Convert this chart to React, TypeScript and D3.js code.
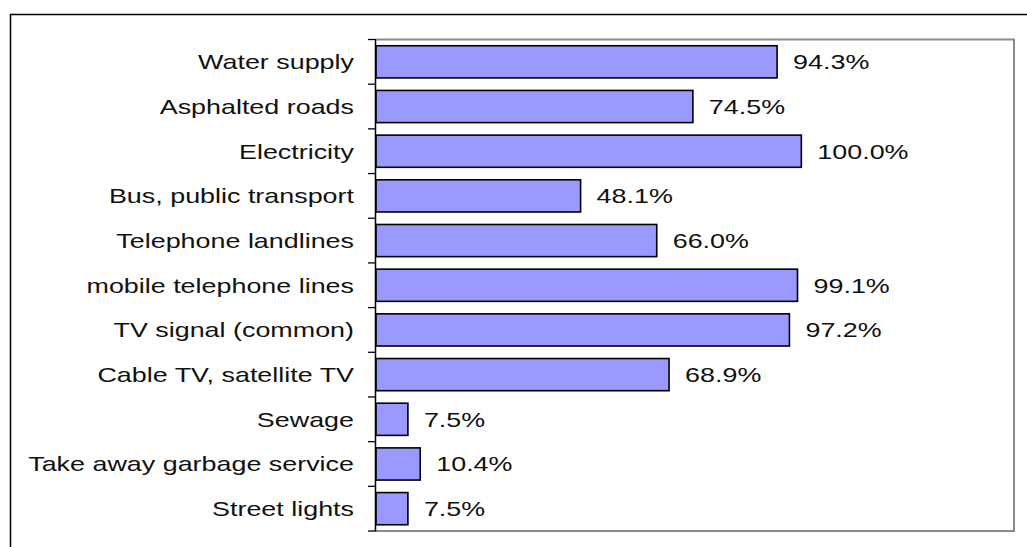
import React from "react";
import * as d3 from "d3";

const categories: string[] = [
  "Water supply",
  "Asphalted roads",
  "Electricity",
  "Bus, public transport",
  "Telephone landlines",
  "mobile telephone lines",
  "TV signal (common)",
  "Cable TV, satellite TV",
  "Sewage",
  "Take away garbage service",
  "Street lights",
];

const values: number[] = [94.3, 74.5, 100.0, 48.1, 66.0, 99.1, 97.2, 68.9, 7.5, 10.4, 7.5];

const xDomain: [number, number] = [0, 150];

const W = 1027;
const H = 547;
const plot = { left: 376, top: 39.5, right: 1014, bottom: 531 };
const FONT = "Arial, 'Liberation Sans', sans-serif";
const SX = 1.345; // horizontal stretch of the original text

export default function App() {
  const x = d3.scaleLinear().domain(xDomain).range([plot.left, plot.right]);
  const y = d3
    .scaleBand<string>()
    .domain(categories)
    .range([plot.top, plot.bottom])
    .paddingInner(0)
    .paddingOuter(0);
  const bandH = y.bandwidth();
  const boundaries = d3.range(categories.length + 1).map((i) => plot.top + i * bandH);
  const fmt = (v: number) => v.toFixed(1) + "%";

  return (
    <svg
      width={W}
      height={H}
      style={{ position: "absolute", left: 0, top: 0, display: "block", background: "#fff" }}
    >
      {/* outer frame */}
      <rect x={10.5} y={14.5} width={W + 20} height={H + 20} fill="none" stroke="#000" strokeWidth={1.5} />

      {/* plot area border */}
      <path
        d={`M${plot.left},${plot.top}H${plot.right}V${plot.bottom}H${plot.left}`}
        fill="none"
        stroke="#8a8a8a"
        strokeWidth={2}
      />

      {/* bars */}
      {categories.map((c, i) => {
        const yc = (y(c) as number) + bandH / 2;
        const h = bandH * 0.72;
        return (
          <rect
            key={c}
            x={x(0)}
            y={yc - h / 2}
            width={x(values[i]) - x(0)}
            height={h}
            fill="#9999ff"
            stroke="#000"
            strokeWidth={1.6}
          />
        );
      })}

      {/* axis line and ticks */}
      <line x1={plot.left - 0.5} x2={plot.left - 0.5} y1={plot.top} y2={plot.bottom} stroke="#000" strokeWidth={1.5} />
      {boundaries.map((b, i) => (
        <line key={i} x1={plot.left - 8} x2={plot.left} y1={b} y2={b} stroke="#000" strokeWidth={1.3} />
      ))}

      {/* category labels */}
      {categories.map((c) => {
        const yc = (y(c) as number) + bandH / 2;
        return (
          <text
            key={c}
            transform={`translate(${plot.left - 22},${yc + 7.3}) scale(${SX},1)`}
            textAnchor="end"
            fontFamily={FONT}
            fontSize={20}
            fill="#111"
          >
            {c}
          </text>
        );
      })}

      {/* value labels */}
      {categories.map((c, i) => {
        const yc = (y(c) as number) + bandH / 2;
        return (
          <text
            key={c}
            transform={`translate(${x(values[i]) + 16},${yc + 7.3}) scale(${SX},1)`}
            textAnchor="start"
            fontFamily={FONT}
            fontSize={20}
            fill="#111"
          >
            {fmt(values[i])}
          </text>
        );
      })}
    </svg>
  );
}
